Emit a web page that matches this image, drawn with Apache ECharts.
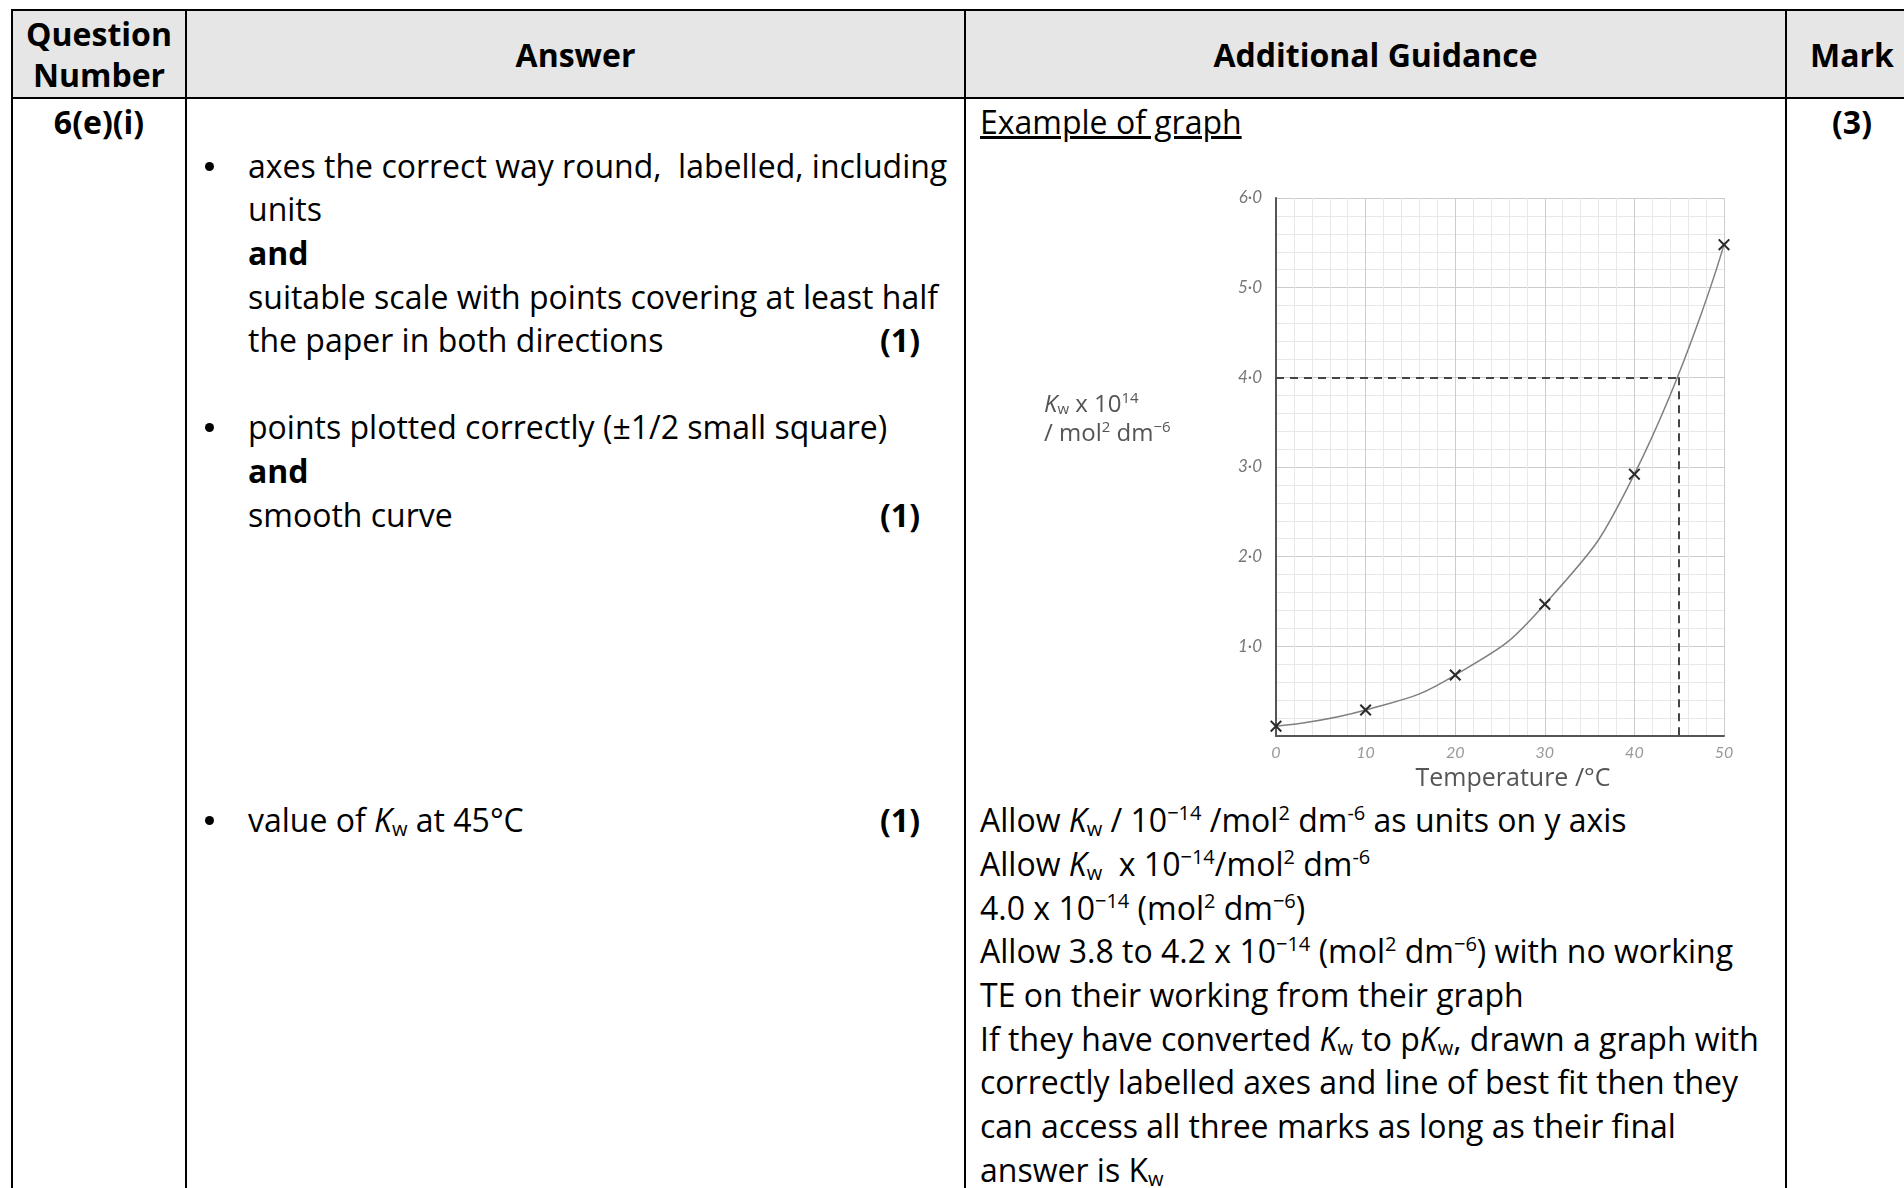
<!DOCTYPE html>
<html>
<head>
<meta charset="utf-8">
<script src="https://cdn.jsdelivr.net/npm/echarts/dist/echarts.min.js"></script>
<style>
  body { margin: 0; width: 1904px; height: 1188px; overflow: hidden; position: relative; background: #fff; font-family: 'Open Sans', sans-serif; color: #000; }
  table { position: absolute; left: 11px; top: 9px; border-collapse: collapse; table-layout: fixed; width: 1906px; }
  th, td { border: 2px solid #000; padding: 0; }
  th { background: #e6e6e6; font-size: 32px; line-height: 41px; height: 86px; font-weight: bold; text-align: center; vertical-align: middle; }
  td { vertical-align: top; font-size: 32px; line-height: 43.65px; height: 1200px; padding-top: 1px; }
  .ln { position: relative; white-space: nowrap; height: 43.65px; }
  .ans .ln { padding-left: 61px; }
  .bul { position: absolute; left: 18px; top: 18px; width: 9px; height: 9px; border-radius: 50%; background: #000; }
  .mk { position: absolute; right: 44px; font-weight: bold; }
  .gd .ln { padding-left: 14px; }
  sup { font-size: 20px; line-height: 0; vertical-align: 12px; }
  sub { font-size: 20px; line-height: 0; vertical-align: -4px; }
  #chart { position: absolute; left: 990px; top: 150px; width: 790px; height: 660px; z-index: 2; }
</style>
</head>
<body>
<table>
  <colgroup><col style="width:174px"><col style="width:779px"><col style="width:821px"><col style="width:132px"></colgroup>
  <tr><th>Question<br>Number</th><th>Answer</th><th>Additional Guidance</th><th>Mark</th></tr>
  <tr>
    <td style="text-align:center;font-weight:bold">6(e)(i)</td>
    <td class="ans">
      <div class="ln"></div>
      <div class="ln"><span class="bul"></span>axes the correct way round,&nbsp; labelled, including</div>
      <div class="ln">units</div>
      <div class="ln"><b>and</b></div>
      <div class="ln">suitable scale with points covering at least half</div>
      <div class="ln">the paper in both directions<span class="mk">(1)</span></div>
      <div class="ln"></div>
      <div class="ln"><span class="bul"></span>points plotted correctly (±1/2 small square)</div>
      <div class="ln"><b>and</b></div>
      <div class="ln">smooth curve<span class="mk">(1)</span></div>
      <div class="ln"></div><div class="ln"></div><div class="ln"></div>
      <div class="ln"></div><div class="ln"></div><div class="ln"></div>
      <div class="ln"><span class="bul"></span>value of <i>K</i><sub>w</sub> at 45°C<span class="mk">(1)</span></div>
    </td>
    <td class="gd">
      <div class="ln"><u>Example of graph</u></div>
      <div style="height:654.75px"></div>
      <div class="ln">Allow <i>K</i><sub>w</sub> / 10<sup>−14</sup> /mol<sup>2</sup> dm<sup>-6</sup> as units on y axis</div>
      <div class="ln">Allow <i>K</i><sub>w</sub>&nbsp; x 10<sup>−14</sup>/mol<sup>2</sup> dm<sup>-6</sup></div>
      <div class="ln">4.0 x 10<sup>−14</sup> (mol<sup>2</sup> dm<sup>−6</sup>)</div>
      <div class="ln">Allow 3.8 to 4.2 x 10<sup>−14</sup> (mol<sup>2</sup> dm<sup>−6</sup>) with no working</div>
      <div class="ln">TE on their working from their graph</div>
      <div class="ln">If they have converted <i>K</i><sub>w</sub> to p<i>K</i><sub>w</sub>, drawn a graph with</div>
      <div class="ln">correctly labelled axes and line of best fit then they</div>
      <div class="ln">can access all three marks as long as their final</div>
      <div class="ln">answer is K<sub>w</sub></div>
    </td>
    <td style="text-align:center;font-weight:bold">(3)</td>
  </tr>
</table>
<div id="chart"></div>
<script>
  // readings
  var temps = [0, 10, 20, 30, 40, 50];
  var kwValues = [0.11, 0.29, 0.68, 1.47, 2.92, 5.48];
  var xTickLabels = ['0', '10', '20', '30', '40', '50'];
  var yTickLabels = ['', '1·0', '2·0', '3·0', '4·0', '5·0', '6·0'];
  var readTemp = 45;
  var readKw = 4.0;

  var cross = 'path://M0,1.2L1.2,0L5,3.8L8.8,0L10,1.2L6.2,5L10,8.8L8.8,10L5,6.2L1.2,10L0,8.8L3.8,5Z';

  var points = temps.map(function(t, i) { return [t, kwValues[i]]; });

  var option = {
    animation: false,
    grid: { left: 286, top: 48, width: 448, height: 538 },
    xAxis: {
      type: 'value', min: 0, max: 50, interval: 10,
      name: 'Temperature /°C', nameLocation: 'middle', nameGap: 30,
      nameTextStyle: { fontFamily: 'Open Sans', fontSize: 25, color: '#555', padding: [0, 0, 0, 26] },
      axisLine: { show: true, lineStyle: { color: '#555', width: 2 } },
      axisTick: { show: false },
      axisLabel: {
        fontFamily: 'Lato', fontStyle: 'italic', fontSize: 16, color: '#999', margin: 9,
        formatter: function(v) { return xTickLabels[v / 10]; }
      },
      splitLine: { show: true, lineStyle: { color: '#cccccc', width: 1 } },
      minorTick: { show: false, splitNumber: 5 },
      minorSplitLine: { show: true, lineStyle: { color: '#e8e8e8', width: 1 } }
    },
    yAxis: {
      type: 'value', min: 0, max: 6, interval: 1,
      axisLine: { show: true, lineStyle: { color: '#555', width: 2 } },
      axisTick: { show: false },
      axisLabel: {
        fontFamily: 'Lato', fontStyle: 'italic', fontSize: 17, color: '#777', margin: 14,
        formatter: function(v) { return yTickLabels[Math.round(v)]; }
      },
      splitLine: { show: true, lineStyle: { color: '#cccccc', width: 1 } },
      minorTick: { show: false, splitNumber: 5 },
      minorSplitLine: { show: true, lineStyle: { color: '#e8e8e8', width: 1 } }
    },
    graphic: [{
      type: 'text', left: 54, top: 241,
      style: {
        text: '{k|K}{w|w}{t| x 10}{s|14}\n{t|/ mol}{s|2}{t| dm}{s|−6}',
        fill: '#555',
        rich: {
          k: { fontFamily: 'Open Sans', fontSize: 24, fontStyle: 'italic', verticalAlign: 'bottom', lineHeight: 29 },
          w: { fontFamily: 'Open Sans', fontSize: 15, verticalAlign: 'bottom', lineHeight: 29 },
          t: { fontFamily: 'Open Sans', fontSize: 24, verticalAlign: 'bottom', lineHeight: 29 },
          s: { fontFamily: 'Open Sans', fontSize: 15, verticalAlign: 'bottom', lineHeight: 29, padding: [0, 0, 11, 0] }
        }
      }
    }],
    series: [{
      type: 'line',
      data: points,
      smooth: true,
      symbol: cross,
      symbolSize: 12,
      showAllSymbol: true,
      lineStyle: { color: '#808080', width: 1.5 },
      itemStyle: { color: '#2a2a2a' },
      markLine: {
        silent: true,
        symbol: 'none',
        label: { show: false },
        lineStyle: { color: '#444', width: 2, type: [8, 6] },
        data: [
          [{ coord: [0, readKw] }, { coord: [readTemp, readKw] }],
          [{ coord: [readTemp, readKw] }, { coord: [readTemp, 0] }]
        ]
      }
    }]
  };

  var chart = echarts.init(document.getElementById('chart'));
  chart.setOption(option);
</script>
</body>
</html>
